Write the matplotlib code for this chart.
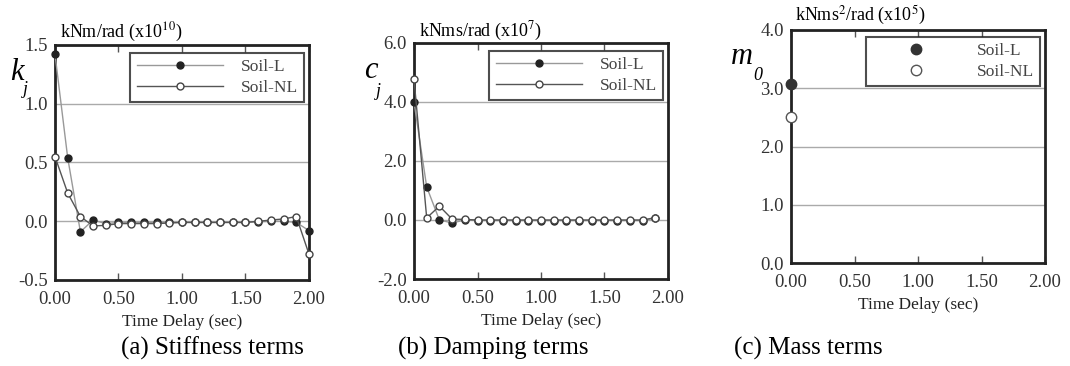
import numpy as np
import matplotlib as mpl
mpl.rcParams.update({'font.family': 'Liberation Serif', 'font.size': 10.5,
                     'mathtext.fontset': 'stix'})
from matplotlib import pyplot as plt
from matplotlib.ticker import FormatStrFormatter

# time delays (sec)
t_k = [0.0, 0.1, 0.2, 0.3, 0.4, 0.5, 0.6, 0.7, 0.8, 0.9, 1.0,
       1.1, 1.2, 1.3, 1.4, 1.5, 1.6, 1.7, 1.8, 1.9, 2.0]
t_c = t_k[:-1]

# stiffness terms k_j (x1e10 kNm/rad)
k_soil_l = [1.42, 0.54, -0.09, 0.01, -0.02, -0.01, -0.01, -0.01, -0.01, -0.01, -0.01,
            -0.01, -0.01, -0.01, -0.01, -0.01, -0.005, 0.0, 0.0, -0.01, -0.08]
k_soil_nl = [0.55, 0.24, 0.04, -0.04, -0.035, -0.02, -0.02, -0.02, -0.02, -0.015, -0.01,
             -0.01, -0.01, -0.01, -0.01, -0.01, 0.0, 0.01, 0.02, 0.04, -0.28]

# damping terms c_j (x1e7 kNms/rad)
c_soil_l = [4.0, 1.12, 0.0, -0.1, 0.0, -0.02, -0.02, -0.02, -0.02, -0.02,
            -0.02, -0.02, -0.02, -0.02, -0.02, -0.02, -0.02, -0.02, -0.02, 0.07]
c_soil_nl = [4.78, 0.07, 0.47, 0.03, 0.02, 0.0, 0.0, 0.0, 0.0, 0.0,
             0.0, 0.0, 0.0, 0.0, 0.0, 0.0, 0.0, 0.0, 0.0, 0.08]

# mass terms m_0 (x1e5 kNms^2/rad)
m_soil_l = [3.08]
m_soil_nl = [2.50]
t_m = [0.0]

W, H = 1070, 366


def px_axes(fig, left, right, top, bottom):
    return fig.add_axes([left / W, 1 - bottom / H, (right - left) / W, (bottom - top) / H])


def style_axes(ax, ylim, yticks):
    ax.set_xlim(0, 2)
    ax.set_ylim(*ylim)
    ax.set_xticks([0, 0.5, 1.0, 1.5, 2.0])
    ax.set_yticks(yticks)
    ax.xaxis.set_major_formatter(FormatStrFormatter('%.2f'))
    ax.yaxis.set_major_formatter(FormatStrFormatter('%.1f'))
    ax.tick_params(axis='x', direction='in', length=5, width=1, color='#555555',
                   top=True, labelsize=13.5, labelcolor='#333333', pad=8)
    ax.tick_params(axis='y', length=0, labelsize=13.5, labelcolor='#333333', pad=5)
    for s in ax.spines.values():
        s.set_linewidth(2)
        s.set_color('#222222')
    ax.grid(axis='y', color='#aaaaaa', linewidth=1)
    ax.set_axisbelow(True)
    ax.set_xlabel('Time Delay (sec)', fontsize=12.5, color='#222222', labelpad=4)


def lines_pair(ax, t, y_l, y_nl):
    ax.plot(t, y_l, '-o', color='#999999', lw=1, ms=5, mfc='#222222', mec='#222222',
            label='Soil-L', clip_on=False, zorder=3)
    ax.plot(t, y_nl, '-o', color='#555555', lw=1, ms=5, mfc='white', mec='#444444',
            mew=1, label='Soil-NL', clip_on=False, zorder=4)


def add_legend(ax, anchor, **kw):
    leg = ax.legend(loc='upper right', bbox_to_anchor=anchor, borderaxespad=0,
                    fancybox=False, edgecolor='#222222', fontsize=12.5, borderpad=0.35,
                    handlelength=5.0, handletextpad=1.0, labelspacing=0.25, **kw)
    leg.get_frame().set_linewidth(1.5)
    for txt in leg.get_texts():
        txt.set_color('#444444')
    return leg


fig = plt.figure(figsize=(W / 100, H / 100), dpi=100)

# (a) stiffness
ax1 = px_axes(fig, 55, 309, 45, 280)
lines_pair(ax1, t_k, k_soil_l, k_soil_nl)
style_axes(ax1, (-0.5, 1.5), [-0.5, 0.0, 0.5, 1.0, 1.5])
add_legend(ax1, (0.98, 0.966))
fig.text(60 / W, 1 - 32 / H, r'kNm/rad (x10$^{10}$)', fontsize=13, va='center')
fig.text(10 / W, 1 - 72 / H, 'k', fontsize=22, style='italic', va='center')
fig.text(23 / W, 1 - 89 / H, 'j', fontsize=13, style='italic', va='center')
fig.text(212 / W, 1 - 348 / H, '(a) Stiffness terms', fontsize=18, ha='center', va='center')

# (b) damping
ax2 = px_axes(fig, 414, 668, 43, 279)
lines_pair(ax2, t_c, c_soil_l, c_soil_nl)
style_axes(ax2, (-2.0, 6.0), [-2.0, 0.0, 2.0, 4.0, 6.0])
add_legend(ax2, (0.98, 0.966))
fig.text(419 / W, 1 - 31 / H, r'kNms/rad (x10$^{7}$)', fontsize=13, va='center')
fig.text(364 / W, 1 - 70 / H, 'c', fontsize=22, style='italic', va='center')
fig.text(376 / W, 1 - 91 / H, 'j', fontsize=13, style='italic', va='center')
fig.text(493 / W, 1 - 348 / H, '(b) Damping terms', fontsize=18, ha='center', va='center')

# (c) mass
ax3 = px_axes(fig, 791, 1045, 30, 263)
ax3.plot(t_m, m_soil_l, 'o', ms=7.5, mfc='#333333', mec='#333333', label='Soil-L',
         clip_on=False, zorder=3)
ax3.plot(t_m, m_soil_nl, 'o', ms=7.5, mfc='white', mec='#555555', mew=1, label='Soil-NL',
         clip_on=False, zorder=3)
style_axes(ax3, (0.0, 4.0), [0.0, 1.0, 2.0, 3.0, 4.0])
add_legend(ax3, (0.98, 0.97))
fig.text(795 / W, 1 - 15 / H, r'kNms$^{2}$/rad (x10$^{5}$)', fontsize=13, va='center')
fig.text(731 / W, 1 - 57 / H, 'm', fontsize=22, style='italic', va='center')
fig.text(753 / W, 1 - 75 / H, '0', fontsize=13, style='italic', va='center')
fig.text(808 / W, 1 - 348 / H, '(c) Mass terms', fontsize=18, ha='center', va='center')

fig.savefig('out.png', dpi=100)
